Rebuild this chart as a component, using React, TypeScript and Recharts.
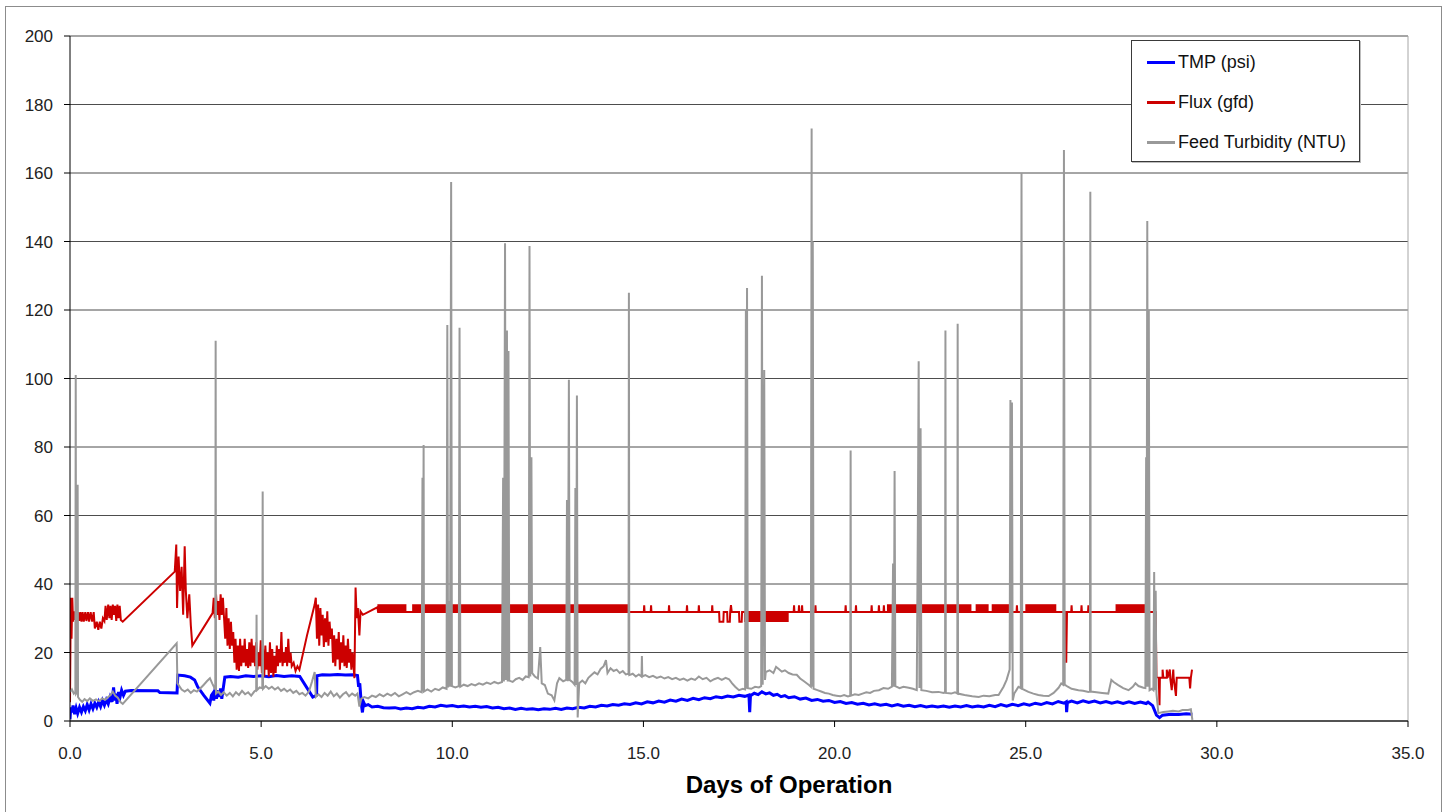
import React from "react";
import {
  ComposedChart,
  Line,
  Area,
  XAxis,
  YAxis,
  CartesianGrid,
  ReferenceLine
} from "recharts";

// axis ticks
const xTicks = [0, 5, 10, 15, 20, 25, 30, 35];
const yTicks = [0, 20, 40, 60, 80, 100, 120, 140, 160, 180, 200];

// series as [day, value]
const tmpPoints: [number, number][] = [
  [0, 0.5], [0.02, 4], [0.05, 2.5], [0.08, 4.5], [0.12, 2], [0.16, 3.8], [0.2, 2.2], [0.25, 4], [0.3, 2.6],
  [0.35, 4.2], [0.4, 3], [0.45, 4.8], [0.5, 3.2], [0.55, 5], [0.6, 3.6], [0.65, 5.2], [0.7, 4], [0.75, 5.6],
  [0.8, 4.2], [0.85, 6], [0.9, 4.6], [0.95, 6.2], [1.0, 5], [1.05, 7], [1.1, 5.6], [1.14, 9.8], [1.17, 6],
  [1.2, 8], [1.23, 5], [1.27, 8.5], [1.31, 7], [1.35, 9], [1.4, 7.5], [1.45, 8.7], [1.6, 8.9], [2.3, 8.8],
  [2.35, 8.3], [2.8, 8.2], [2.82, 13.4], [3.0, 13.2], [3.15, 12.8], [3.26, 12], [3.34, 10], [3.5, 7.5],
  [3.66, 5.2], [3.7, 7.5], [3.73, 8], [3.76, 6], [3.8, 9.8], [3.83, 6.5], [3.87, 9], [3.9, 7], [3.94, 9.5],
  [3.97, 6.5], [4.05, 12.8], [4.2, 13], [4.4, 12.8], [4.6, 13.2], [4.8, 13], [5.0, 13.2], [5.2, 12.9],
  [5.4, 13.3], [5.6, 13], [5.8, 13.2], [6.01, 13], [6.35, 7], [6.45, 7.5], [6.46, 13.2], [6.6, 13.5],
  [6.8, 13.4], [7.0, 13.6], [7.2, 13.4], [7.4, 13.5], [7.52, 13.3], [7.55, 10], [7.58, 11], [7.62, 5],
  [7.65, 2.5], [7.68, 5.5], [7.72, 4.5], [7.8, 4.8], [7.9, 4.1], [8.05, 4.3], [8.2, 3.9], [8.35, 3.8],
  [8.5, 3.9], [8.65, 3.5], [8.8, 3.8], [8.95, 3.6], [9.1, 4.0], [9.25, 3.8], [9.4, 4.3], [9.55, 4.1],
  [9.7, 4.6], [9.85, 4.3], [10.0, 4.5], [10.15, 4.2], [10.3, 4.4], [10.45, 4.1], [10.6, 4.3], [10.75, 4.0],
  [10.9, 4.2], [11.05, 3.8], [11.2, 4.0], [11.35, 3.6], [11.5, 3.8], [11.65, 3.4], [11.8, 3.7], [11.95, 3.4],
  [12.1, 3.6], [12.25, 3.3], [12.4, 3.6], [12.55, 3.4], [12.7, 3.7], [12.85, 3.4], [13.0, 3.8], [13.15, 3.6],
  [13.3, 4.0], [13.45, 3.8], [13.6, 4.3], [13.75, 4.1], [13.9, 4.6], [14.05, 4.4], [14.2, 4.8], [14.35, 4.6],
  [14.5, 5.0], [14.65, 4.8], [14.8, 5.3], [14.95, 5.0], [15.1, 5.6], [15.25, 5.3], [15.4, 5.8], [15.55, 5.5],
  [15.7, 6.1], [15.85, 5.8], [16.0, 6.4], [16.15, 6.0], [16.3, 6.6], [16.45, 6.2], [16.6, 6.8], [16.75, 6.5],
  [16.9, 7.1], [17.05, 6.8], [17.2, 7.3], [17.35, 7.0], [17.5, 7.5], [17.65, 7.2], [17.76, 7.6], [17.78, 2.6],
  [17.8, 7.4], [17.9, 8.1], [18.0, 7.7], [18.1, 8.5], [18.2, 7.9], [18.3, 8.2], [18.4, 7.5], [18.5, 7.8],
  [18.6, 7.1], [18.7, 7.4], [18.8, 6.8], [18.95, 7.1], [19.1, 6.4], [19.25, 6.7], [19.4, 6.0], [19.55, 6.3],
  [19.7, 5.8], [19.85, 6.0], [20.0, 5.4], [20.15, 5.7], [20.3, 5.1], [20.45, 5.4], [20.6, 4.9], [20.75, 5.2],
  [20.9, 4.7], [21.05, 5.0], [21.2, 4.6], [21.35, 4.9], [21.5, 4.4], [21.65, 4.8], [21.8, 4.3], [21.95, 4.6],
  [22.1, 4.2], [22.25, 4.5], [22.4, 4.1], [22.55, 4.4], [22.7, 4.1], [22.85, 4.4], [23.0, 4.0], [23.15, 4.4],
  [23.3, 4.1], [23.45, 4.5], [23.6, 4.1], [23.75, 4.4], [23.9, 4.1], [24.05, 4.6], [24.2, 4.2], [24.35, 4.8],
  [24.5, 4.3], [24.65, 4.9], [24.8, 4.5], [24.95, 5.0], [25.1, 4.6], [25.25, 5.2], [25.4, 4.8], [25.55, 5.4],
  [25.7, 5.0], [25.85, 5.7], [26.0, 5.2], [26.06, 5.6], [26.07, 2.6], [26.09, 5.4], [26.2, 5.8], [26.35, 5.3],
  [26.5, 5.9], [26.65, 5.4], [26.8, 5.8], [26.95, 5.3], [27.1, 5.7], [27.25, 5.2], [27.4, 5.6], [27.55, 5.1],
  [27.7, 5.6], [27.85, 5.1], [28.0, 5.5], [28.15, 5.1], [28.2, 5.5], [28.32, 4.5],
  [28.42, 1.7], [28.5, 1], [28.58, 1.7], [28.8, 2], [29.0, 1.9], [29.2, 2.1], [29.36, 2]
];

const fluxPoints: [number, number][] = [
  [0, 5.5], [0.02, 36], [0.04, 24], [0.06, 36], [0.08, 29], [0.1, 32], [0.12, 29.5], [0.15, 32], [0.18, 29],
  [0.21, 31.8], [0.24, 29.2], [0.27, 31.8], [0.3, 29], [0.33, 31.8], [0.36, 29], [0.4, 31.8], [0.43, 29.2],
  [0.47, 31.8], [0.5, 29], [0.54, 31.8], [0.58, 29], [0.62, 31.8], [0.65, 27], [0.7, 29], [0.74, 26.6],
  [0.78, 29], [0.82, 27], [0.86, 30], [0.9, 29.2], [0.93, 33.6], [0.96, 29.5], [1.0, 34], [1.03, 30],
  [1.06, 33.6], [1.09, 29.5], [1.12, 34], [1.15, 31], [1.18, 33.6], [1.21, 29.2], [1.24, 34], [1.27, 30],
  [1.3, 33.6], [1.33, 29.5], [1.38, 29],
  [2.74, 43.6], [2.78, 51.5], [2.8, 33], [2.84, 48], [2.88, 38], [2.92, 45], [2.96, 31], [3.0, 51],
  [3.03, 38], [3.07, 30], [3.12, 37], [3.16, 28], [3.2, 22], [3.73, 31.5],
  [3.76, 36], [3.79, 30], [3.82, 37], [3.85, 31], [3.88, 35], [3.91, 29.5], [3.94, 37], [3.97, 31],
  [4.0, 36], [4.03, 30], [4.06, 24], [4.09, 33], [4.12, 22], [4.15, 30], [4.18, 21], [4.21, 29], [4.24, 22],
  [4.27, 26], [4.3, 17], [4.33, 24], [4.36, 15], [4.39, 22], [4.42, 14.6], [4.45, 24], [4.48, 16],
  [4.51, 22], [4.54, 17], [4.57, 24], [4.6, 16], [4.63, 21], [4.66, 15.5], [4.69, 23], [4.72, 16],
  [4.75, 24], [4.78, 17], [4.81, 22], [4.84, 16], [4.87, 23], [4.9, 15], [4.93, 20], [4.96, 16],
  [4.99, 23.6], [5.02, 14], [5.05, 21], [5.08, 13], [5.11, 22], [5.14, 15], [5.17, 20], [5.2, 13],
  [5.23, 23], [5.26, 14], [5.29, 21], [5.32, 12.9], [5.35, 19], [5.38, 14], [5.41, 22], [5.44, 16],
  [5.47, 21], [5.5, 17], [5.53, 26], [5.56, 16], [5.59, 20], [5.62, 17], [5.65, 21.6], [5.68, 16],
  [5.71, 24], [5.74, 17], [5.77, 20], [5.8, 16], [5.85, 17], [5.9, 14.6], [5.95, 16], [6.0, 15],
  [6.2, 25], [6.4, 34], [6.43, 36], [6.46, 24], [6.49, 34], [6.52, 22], [6.55, 33], [6.58, 25],
  [6.61, 31], [6.64, 21.6], [6.67, 30], [6.7, 23], [6.73, 32], [6.76, 22], [6.79, 29], [6.82, 24],
  [6.85, 27], [6.88, 17], [6.91, 25], [6.94, 16], [6.97, 24], [7.0, 18], [7.03, 26], [7.06, 15],
  [7.09, 23], [7.12, 17], [7.15, 25], [7.18, 16], [7.21, 22], [7.24, 15.5], [7.27, 24], [7.3, 17],
  [7.33, 21], [7.36, 15], [7.39, 20], [7.44, 12.5], [7.47, 39], [7.5, 30], [7.53, 33], [7.57, 25],
  [7.6, 32], [7.66, 31], [8.04, 33.2], [8.06, 31.8], [14.63, 31.8],
  [15.01, 31.8], [15.02, 33.8], [15.03, 31.8], [15.19, 31.8], [15.2, 33.8], [15.21, 31.8],
  [15.66, 31.8], [15.67, 33.8], [15.68, 31.8], [16.13, 31.8], [16.14, 33.8], [16.15, 31.8],
  [16.44, 31.8], [16.45, 33.8], [16.46, 31.8], [16.79, 31.8], [16.8, 33.8], [16.81, 31.8],
  [16.98, 31.8], [16.99, 29], [17.09, 29], [17.1, 31.8], [17.19, 31.8], [17.2, 29], [17.26, 29],
  [17.27, 31.8], [17.29, 33.8], [17.31, 31.8], [17.5, 31.8], [17.51, 29], [17.57, 29], [17.58, 31.8],
  [18.8, 31.8], [18.93, 31.8], [18.94, 33.8], [18.95, 31.8], [19.06, 31.8], [19.07, 33.8], [19.08, 31.8],
  [19.14, 31.8], [19.15, 33.8], [19.16, 31.8], [19.49, 31.8], [19.5, 33.8], [19.51, 31.8],
  [20.28, 31.8], [20.29, 33.8], [20.3, 31.8], [20.55, 31.8], [20.56, 33.8], [20.57, 31.8],
  [20.96, 31.8], [20.97, 33.8], [20.98, 31.8], [21.15, 31.8], [21.16, 33.8], [21.17, 31.8],
  [21.28, 31.8], [21.29, 33.8], [21.3, 31.8], [24.76, 31.8], [24.77, 33.8], [24.78, 31.8],
  [26.05, 31.8], [26.06, 17], [26.08, 31.8], [26.19, 31.8], [26.2, 33.8], [26.21, 31.8],
  [26.45, 31.8], [26.46, 33.8], [26.47, 31.8], [26.63, 31.8], [26.64, 33.8], [26.65, 31.8],
  [28.4, 31.8], [28.42, 12.9], [28.48, 12.6], [28.5, 4.6], [28.51, 12.6], [28.58, 12.6], [28.58, 15],
  [28.6, 12.6], [28.69, 12.6], [28.69, 15], [28.71, 12.6], [28.77, 15], [28.78, 12.6], [28.82, 9],
  [28.84, 12.6], [28.86, 15], [28.87, 12.6], [28.93, 7.3], [28.95, 12.6], [29.28, 12.6], [29.3, 9.5],
  [29.32, 12.6], [29.35, 15]
];

// stretches where flux flips fast between two levels: [from, to, low, high]
const fluxBands: [number, number, number, number][] = [
  [8.04, 8.8, 31.8, 34.1],
  [8.95, 14.63, 31.8, 34.1],
  [17.63, 18.8, 28.9, 31.8],
  [21.37, 23.58, 31.8, 34.1],
  [23.69, 24.03, 31.8, 34.1],
  [24.11, 24.63, 31.8, 34.1],
  [24.99, 25.8, 31.8, 34.1],
  [27.35, 28.13, 31.8, 34.1]
];

const turbidityPoints: [number, number][] = [
  [0, 8.5], [0.05, 9.2], [0.1, 8], [0.14, 8.5], [0.15, 101], [0.16, 8], [0.19, 8.5], [0.2, 69], [0.21, 7],
  [0.26, 6.2], [0.32, 5.6], [0.38, 6.4], [0.45, 5.8], [0.52, 6.6], [0.6, 5.9], [0.68, 6.3], [0.76, 5.8],
  [0.84, 6.6], [0.92, 6.2], [1.0, 7], [1.06, 7.6], [1.12, 8.6], [1.18, 7.4], [1.25, 6.8], [1.32, 5.5],
  [1.38, 5], [2.79, 22.7], [2.81, 11], [2.86, 10.2], [2.92, 9.2], [3.0, 8.6], [3.08, 9.2], [3.16, 8.2],
  [3.24, 9], [3.32, 8.6], [3.4, 9.4], [3.5, 10.6], [3.58, 11.6], [3.66, 12.5], [3.72, 11], [3.78, 9.6],
  [3.8, 10], [3.81, 111], [3.82, 8], [3.88, 8.6], [3.95, 7.6], [4.02, 8.4], [4.1, 7.4], [4.18, 8.2],
  [4.26, 7.2], [4.34, 8.4], [4.42, 7.6], [4.5, 8.8], [4.58, 7.8], [4.66, 8.4], [4.74, 7.4], [4.82, 8.6],
  [4.87, 9], [4.88, 31], [4.89, 9], [4.96, 9.8], [5.03, 9.6], [5.04, 67], [5.05, 9.4], [5.12, 10.2],
  [5.2, 9.4], [5.28, 10], [5.36, 9.2], [5.44, 9.8], [5.52, 8.8], [5.6, 9.4], [5.68, 8.6], [5.76, 9.2],
  [5.84, 8.2], [5.92, 8.8], [6.0, 7.8], [6.08, 8.2], [6.16, 7.4], [6.25, 8.6], [6.33, 11.5], [6.4, 14.3],
  [6.43, 7], [6.5, 7.8], [6.58, 7], [6.66, 8.2], [6.74, 7.4], [6.82, 8.6], [6.9, 7.2], [6.98, 8],
  [7.06, 6.8], [7.14, 7.8], [7.22, 8.4], [7.3, 7.2], [7.38, 8], [7.46, 7.4], [7.52, 8], [7.57, 4.2],
  [7.62, 6.5], [7.7, 7], [7.8, 6.6], [7.9, 7.4], [8.0, 7], [8.1, 7.8], [8.2, 7.2], [8.3, 8], [8.4, 7.4],
  [8.5, 8.2], [8.6, 7.2], [8.7, 7.8], [8.8, 8.4], [8.9, 7.8], [9.0, 8.4], [9.1, 8.8], [9.2, 8.4],
  [9.22, 71], [9.23, 8.6], [9.25, 80.6], [9.26, 8.6], [9.35, 9.2], [9.45, 8.6], [9.55, 9.4], [9.65, 9],
  [9.75, 9.8], [9.85, 9.4], [9.87, 115.6], [9.89, 9.8], [9.92, 35], [9.94, 10], [9.97, 157.4], [9.99, 10.2],
  [10.08, 9.8], [10.17, 10.2], [10.19, 114.8], [10.21, 10], [10.3, 10.6], [10.4, 10.2], [10.5, 10.8],
  [10.6, 10.4], [10.7, 11], [10.8, 10.6], [10.9, 11.2], [11.0, 10.8], [11.1, 11.4], [11.2, 11], [11.3, 11.4],
  [11.33, 71], [11.35, 11.5], [11.38, 139.5], [11.4, 12], [11.43, 114], [11.45, 11.5], [11.47, 108],
  [11.49, 11.8], [11.58, 11.4], [11.66, 12.2], [11.75, 12.6], [11.84, 12], [11.92, 13], [12.0, 12.8],
  [12.02, 138.7], [12.04, 13], [12.07, 77], [12.09, 14], [12.16, 13], [12.24, 12.4], [12.3, 21.6],
  [12.34, 11], [12.42, 10.5], [12.5, 8], [12.6, 7.5], [12.67, 6], [12.74, 11], [12.8, 12.5], [12.9, 11.6],
  [12.98, 12], [13.0, 64.5], [13.02, 11.6], [13.05, 99.6], [13.07, 12], [13.14, 11.4], [13.2, 10.6],
  [13.22, 68], [13.24, 10.5], [13.26, 95], [13.28, 1], [13.32, 11], [13.4, 11.8], [13.48, 11],
  [13.56, 12.6], [13.64, 13.4], [13.72, 14.2], [13.8, 13.6], [13.88, 15.2], [13.96, 16], [14.02, 17.8],
  [14.06, 14], [14.14, 15.4], [14.22, 14.6], [14.3, 15], [14.38, 14], [14.46, 14.6], [14.54, 13.6],
  [14.61, 13.8], [14.62, 125], [14.63, 13.4], [14.72, 13.8], [14.8, 13], [14.88, 13.6], [14.95, 13],
  [14.96, 19], [14.97, 13], [15.05, 13.4], [15.15, 12.8], [15.25, 13.2], [15.35, 12.6], [15.45, 13],
  [15.55, 12.4], [15.65, 12.8], [15.75, 12.2], [15.85, 12.6], [15.95, 12], [16.05, 12.4], [16.15, 11.8],
  [16.25, 12.4], [16.35, 12], [16.45, 13], [16.55, 12.2], [16.65, 12.6], [16.75, 11.6], [16.85, 12.2],
  [16.95, 12.6], [17.05, 12], [17.15, 12.6], [17.24, 12.2], [17.32, 11], [17.4, 10], [17.5, 9],
  [17.6, 9.4], [17.66, 9.2], [17.68, 120], [17.69, 9.4], [17.71, 126.4], [17.73, 9.6], [17.82, 9.4],
  [17.92, 10], [18.02, 9.8], [18.08, 10.2], [18.1, 130], [18.12, 10.6], [18.16, 102.5], [18.18, 12],
  [18.2, 14.3], [18.3, 14.8], [18.4, 14], [18.47, 15.8], [18.54, 15.2], [18.62, 14.4], [18.7, 14.8],
  [18.8, 14], [18.9, 13.6], [19.01, 13.5], [19.1, 12.4], [19.2, 11.6], [19.33, 10.5], [19.38, 10],
  [19.4, 173], [19.41, 10], [19.43, 140], [19.45, 9.4], [19.55, 9], [19.65, 8.6], [19.75, 8.2], [19.85, 8],
  [19.95, 7.6], [20.05, 7.4], [20.15, 7.2], [20.25, 7.6], [20.35, 7.2], [20.41, 7.4], [20.42, 79],
  [20.43, 7.4], [20.53, 7.8], [20.63, 7.6], [20.73, 8], [20.83, 8.4], [20.93, 8.2], [21.03, 8.8],
  [21.16, 9], [21.28, 9.6], [21.4, 9.4], [21.5, 10], [21.53, 46], [21.55, 10], [21.57, 73], [21.59, 10.2],
  [21.7, 9.6], [21.8, 10], [21.94, 9.7], [22.05, 9.4], [22.15, 9], [22.18, 60], [22.2, 105], [22.22, 9.6],
  [22.25, 85.5], [22.27, 9], [22.4, 8.8], [22.55, 8.4], [22.72, 8.5], [22.85, 8.2], [22.89, 8.4],
  [22.9, 114], [22.91, 8.2], [23.05, 8], [23.15, 8.4], [23.21, 8], [23.22, 116], [23.23, 8], [23.4, 7.6],
  [23.6, 7.2], [23.77, 7], [23.9, 7.4], [24.05, 7.2], [24.2, 7.6], [24.29, 7.6], [24.42, 10], [24.5, 12],
  [24.58, 15], [24.6, 93.7], [24.62, 20], [24.64, 93], [24.66, 6], [24.7, 8], [24.81, 10], [24.87, 9.6],
  [24.89, 160], [24.91, 9.4], [25.07, 8.5], [25.2, 8], [25.33, 7.6], [25.46, 7.4], [25.6, 7.3],
  [25.73, 8.2], [25.86, 9.7], [25.93, 11], [25.98, 10.6], [26.0, 166.7], [26.02, 10.6], [26.1, 10],
  [26.2, 9.4], [26.38, 9], [26.5, 8.8], [26.64, 8.5], [26.68, 8.6], [26.69, 154.5], [26.7, 8.6],
  [26.85, 8.4], [27.0, 8.2], [27.16, 8], [27.24, 12], [27.3, 11.4], [27.42, 10.5], [27.55, 9.6],
  [27.69, 9], [27.8, 10], [27.87, 11], [27.95, 10.2], [28.08, 9.7], [28.13, 9.6], [28.15, 77],
  [28.16, 10], [28.18, 146], [28.2, 10], [28.22, 120], [28.24, 9], [28.3, 9.4], [28.34, 9],
  [28.36, 43.5], [28.38, 9], [28.4, 38], [28.42, 8], [28.47, 2.3], [28.6, 2.6], [28.73, 2.8],
  [28.85, 3], [29.0, 2.8], [29.1, 3.2], [29.25, 3.2], [29.32, 3.4], [29.36, 0.3]
];

const legendItems = [
  { name: "TMP (psi)", color: "#0000ff" },
  { name: "Flux (gfd)", color: "#cc0000" },
  { name: "Feed Turbidity (NTU)", color: "#999999" }
];

const FONT = "'Liberation Sans', Arial, sans-serif";

const toRows = (pts: [number, number][]) => pts.map(([d, v]) => ({ d, v }));

export default function App() {
  const tickStyle = { fontSize: 17, fill: "#222", fontFamily: FONT };

  return (
    <div style={{ position: "absolute", left: 0, top: 0, width: 1450, height: 812, background: "#fff", fontFamily: FONT }}>
      <div
        style={{
          position: "absolute",
          left: 5,
          top: 6,
          width: 1437,
          height: 812,
          border: "1px solid #8c8c8c",
          boxSizing: "border-box"
        }}
      />
      <div style={{ position: "absolute", left: 6, top: 7 }}>
        <ComposedChart width={1435} height={806} margin={{ top: 29, right: 33, bottom: 0, left: 0 }}>
          <CartesianGrid vertical={false} stroke="#4d4d4d" />
          <ReferenceLine y={200} stroke="#a6a6a6" />
          <ReferenceLine x={35} stroke="#a6a6a6" />
          <XAxis
            type="number"
            dataKey="d"
            domain={[0, 35]}
            ticks={xTicks}
            interval={0}
            allowDataOverflow
            tickFormatter={(v: number) => v.toFixed(1)}
            tickSize={6}
            tickMargin={20}
            height={92}
            axisLine={{ stroke: "#000" }}
            tickLine={{ stroke: "#000" }}
            tick={tickStyle}
            label={{
              value: "Days of Operation",
              position: "insideBottom",
              offset: 20,
              dx: 50,
              style: { fontSize: 24, fontWeight: 700, fill: "#000", fontFamily: FONT }
            }}
          />
          <YAxis
            type="number"
            domain={[0, 200]}
            ticks={yTicks}
            interval={0}
            width={64}
            tickSize={6}
            tickMargin={11}
            axisLine={{ stroke: "#000" }}
            tickLine={{ stroke: "#000" }}
            tick={tickStyle}
          />
          <Line
            data={toRows(tmpPoints)}
            dataKey="v"
            type="linear"
            stroke="#0000ff"
            strokeWidth={3}
            dot={false}
            isAnimationActive={false}
          />
          {fluxBands.map(([from, to, lo, hi], i) => (
            <Area
              key={i}
              data={[{ d: from, r: [lo, hi] }, { d: to, r: [lo, hi] }]}
              dataKey="r"
              type="linear"
              stroke="none"
              fill="#cc0000"
              fillOpacity={1}
              dot={false}
              isAnimationActive={false}
            />
          ))}
          <Line
            data={toRows(fluxPoints)}
            dataKey="v"
            type="linear"
            stroke="#cc0000"
            strokeWidth={2}
            dot={false}
            isAnimationActive={false}
          />
          <Line
            data={toRows(turbidityPoints)}
            dataKey="v"
            type="linear"
            stroke="#999999"
            strokeWidth={2}
            dot={false}
            isAnimationActive={false}
          />
        </ComposedChart>
      </div>
      <div
        style={{
          position: "absolute",
          left: 1131,
          top: 40,
          width: 229,
          height: 122,
          border: "1px solid #3a3a3a",
          boxSizing: "border-box",
          background: "#fff",
          boxShadow: "1px 1px 0 #bdbdbd"
        }}
      >
        {legendItems.map((item, i) => (
          <div
            key={item.name}
            style={{
              position: "absolute",
              left: 15,
              top: 10 + i * 40,
              height: 22,
              display: "flex",
              alignItems: "center",
              whiteSpace: "nowrap"
            }}
          >
            <span style={{ display: "inline-block", width: 28, height: 3, background: item.color }} />
            <span style={{ marginLeft: 3, fontSize: 18, color: "#111" }}>{item.name}</span>
          </div>
        ))}
      </div>
    </div>
  );
}
